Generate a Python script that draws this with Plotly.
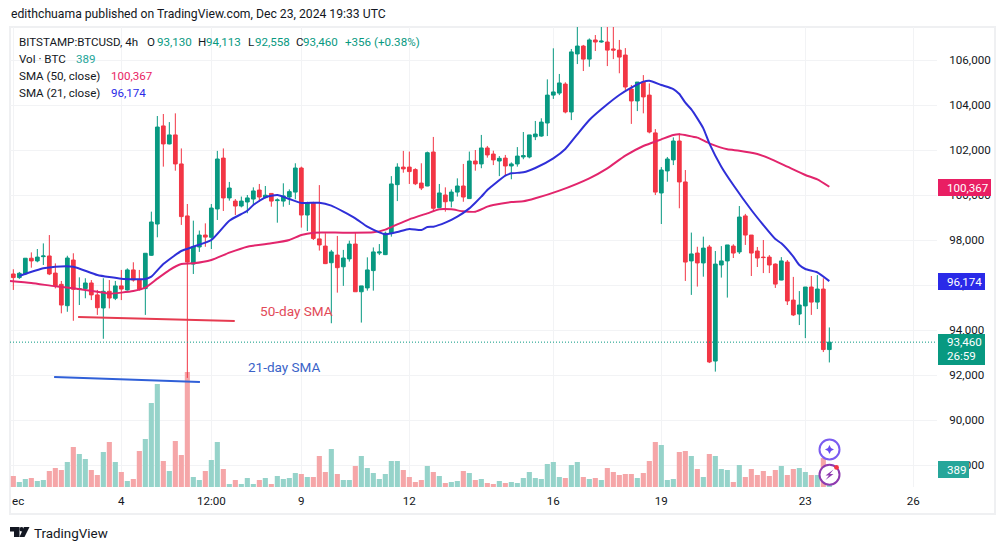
import plotly.graph_objects as go

# 4h candles, one value per bar
opens = [96490,96330,96490,97190,97070,97260,97290,96530,96030,95080,
 97110,95810,95840,96090,95560,94980,95720,95410,95960,95780,
 96670,96220,95840,97320,98710,103070,102270,102670,101380,99070,
 96930,97690,98220,98120,99380,101640,99870,99730,99510,99690,
 99820,100220,99880,100070,99750,99730,99910,100130,101200,99110,
 99640,98050,97730,96990,97330,96810,97160,97820,95700,95870,
 96640,97420,97350,98300,100460,101240,101240,101130,100530,100400,
 101910,99440,100000,99730,100130,100400,99840,101510,101380,102090,
 101820,101510,101640,101290,101380,101690,101690,102590,102620,103200,
 104440,104530,104930,103690,106270,106620,106040,106890,106800,106800,
 106490,106440,106220,104710,104180,105020,104440,102760,100090,101070,
 101560,102400,100580,97070,97420,96980,97690,92620,96890,97070,
 97730,97470,99070,98220,97510,97240,97240,96930,96220,97020,
 95330,94710,95070,95910,95240,95820,93130]
highs = [96700,96580,97200,97450,97600,97850,98220,96960,96180,97300,
 97410,96340,96300,96220,95780,96300,96220,96180,96670,96740,
 97010,96670,97410,99260,103510,103600,103240,103630,102070,99600,
 98860,98420,98740,99600,101960,102070,100580,99820,99930,100000,
 100340,100490,100400,100070,99850,100520,100250,101410,101260,99700,
 99700,100440,98300,97560,98180,97560,97970,98330,95960,97230,
 97670,97820,98370,100840,101410,101960,101930,101190,101410,101930,
 102580,100490,100340,100250,100740,101380,101930,102000,102670,102180,
 101970,101730,101780,101450,102130,102800,102670,103290,103410,105140,
 106520,105380,105010,106490,107600,106670,106960,107110,107600,107600,
 107600,106890,106530,104890,105020,105330,104960,102930,101240,101690,
 102560,102740,101110,98330,97700,98150,97780,97510,97730,97780,
 97810,99510,99160,98220,97690,98000,97330,96960,97240,97110,
 96360,95730,95910,96400,96440,96300,94113]
lows = [95780,96270,96440,96770,97010,96890,96440,95850,94740,94810,
 94410,95110,95410,95330,94670,93610,94960,95330,95330,95750,
 96150,95750,94670,97290,98120,101260,102250,101080,98670,91870,
 96490,97470,97700,97600,98890,99290,99750,99110,99450,99190,
 99560,99700,99850,99480,98770,99480,99560,99810,98550,98400,
 98000,97530,96930,94300,95660,95960,97040,95700,94330,95750,
 95750,97330,97330,98150,99730,100990,100490,100440,100220,100390,
 99330,99430,99260,99450,99930,99700,99830,101080,101190,101660,
 101330,100840,100840,100700,101260,101590,101630,102440,102590,102620,
 104270,104440,103630,103330,105820,105510,105700,106400,106770,105730,
 106040,105410,104670,103160,103730,103630,102740,100000,98710,100590,
 101330,99410,96180,95560,95930,96370,92530,92150,96330,95440,
 97200,97380,97780,96400,96800,96530,96530,95870,96210,95110,
 94620,94220,93640,94670,94930,93020,92558]
closes = [96330,96520,97190,97070,97240,97290,96490,95970,95110,97200,
 95810,95840,96090,95560,94990,95720,95420,95960,95820,96670,
 96220,95810,97410,98800,103020,102270,102670,101380,99040,97020,
 97690,98220,98130,99420,101600,99870,100310,99510,99730,99870,
 100180,99910,99990,99730,99780,99960,100150,101200,99110,99640,
 98070,97780,96950,97470,96770,97200,97820,95700,95960,96670,
 97470,97470,98300,100490,101240,101160,101040,100500,100310,101880,
 99410,100090,99700,100130,100400,99910,101510,101380,102090,101780,
 101560,101630,101290,101380,101730,101750,102670,102710,103240,104440,
 104580,104980,103690,106360,106620,106040,106890,106800,106840,106440,
 106440,106130,104800,104180,105020,104360,102800,100130,101110,101600,
 102400,100580,97020,97380,96980,97640,92580,96930,97070,97780,
 97420,99020,98220,97420,97200,97220,96890,96040,97070,95290,
 94670,95110,95910,95240,95820,93130,93460]
volumes = [238,108,173,194,130,151,346,410,367,540,864,713,605,367,259,756,972,540,324,130,
 173,778,1037,1814,2225,562,346,994,691,2484,216,151,346,583,972,389,65,151,65,194,
 65,151,194,65,238,173,194,302,281,216,216,670,324,821,281,
 151,151,454,670,410,302,173,281,562,562,367,216,108,151,454,324,238,86,108,130,346,
 302,151,173,86,65,130,86,108,86,194,324,194,173,497,540,216,194,475,540,216,173,194,
 151,410,324,259,281,281,194,302,562,972,907,
 151,173,756,778,670,389,216,713,670,389,367,108,475,216,389,259,346,238,367,454,259,
 389,410,324,259,259,626,389]

sma21_x = [1,5,7,10,14,18,22,23,25,28,30,33,36,39,40,42,44,46,48,51,53,55,57,59,61,62,64,66,68,69,70,72,74,76,77,78,79,
 80,82,83,85,87,90,92,94,96,99,101,103,105,106,108,110,111,112,113,114,115,116,118,120,123,125,127,128,130,131,132,134,136]
sma21 = [96400,96740,96815,96815,96444,96281,96266,96370,96933,97511,97703,98000,98859,99300,99555,99896,100000,99822,99644,99659,99526,99259,98963,98592,98340,98252,98355,98489,98444,98578,98592,98770,99037,99407,99659,99926,100222,
 100444,100859,100963,101007,101200,101629,102044,102696,103333,104030,104444,104770,105037,105081,104889,104711,104489,104103,103807,103407,102963,102296,101259,100444,99333,98666,98044,97852,97259,96889,96711,96563,96174]
sma50_x = [-1,3,7,10,14,16,20,22,24,26,28,30,33,36,39,40,43,46,48,50,55,60,62,64,66,69,71,73,75,77,79,
 80,83,85,87,91,96,99,102,105,108,110,111,114,116,119,121,124,126,129,132,134,136]
sma50 = [96190,96089,95941,95852,95703,95614,95733,95881,96281,96666,96933,96963,97111,97437,97703,97748,97852,98000,98222,98326,98326,98340,98459,98696,98919,99185,99363,99363,99274,99259,99481,
 99555,99689,99718,99852,100193,100741,101185,101748,102178,102474,102666,102696,102548,102296,102030,101970,101822,101629,101259,100889,100696,100367]

# hand-drawn marks and their captions
drawn_50_x, drawn_50_y = [10.8, 36.9], [94578, 94400]
drawn_21_x, drawn_21_y = [6.8, 31.1], [91911, 91689]
price_ticks = [88000,90000,92000,94000,96000,98000,100000,102000,104000,106000]
time_tickvals = [0,18,33,48,66,90,108,132,150]
time_ticktext = ["","4","12:00","9","12","16","19","23","26"]

GREEN, RED = "#089981", "#f23645"
VOL_G, VOL_R = "#96d3ca", "#f5a6a8"
BLUE, PINK = "#2f2fd8", "#e2256c"
GRID = "#f2f3f5"
FONT = "Roboto"
BASE = 11.6
idx = list(range(len(closes)))

L, R, T, B = 10, 937, 27, 487
def px(x): return (x - L) / (R - L)
def py(y): return (B - y) / (B - T)

fig = go.Figure()
fig.add_bar(x=idx, y=volumes, width=0.85, yaxis="y",
            marker=dict(color=[VOL_G if c >= o else VOL_R for o, c in zip(opens, closes)], line_width=0))
fig.add_candlestick(x=idx, open=opens, high=highs, low=lows, close=closes, yaxis="y2", whiskerwidth=0,
                    increasing=dict(line=dict(color=GREEN, width=1), fillcolor=GREEN),
                    decreasing=dict(line=dict(color=RED, width=1), fillcolor=RED))
fig.add_scatter(x=sma50_x, y=sma50, yaxis="y2", mode="lines", line=dict(color=PINK, width=2, shape="spline", smoothing=0.5))
fig.add_scatter(x=sma21_x, y=sma21, yaxis="y2", mode="lines", line=dict(color=BLUE, width=2, shape="spline", smoothing=0.5))
fig.add_scatter(x=drawn_50_x, y=drawn_50_y, yaxis="y2", mode="lines", line=dict(color="#e63b50", width=2))
fig.add_scatter(x=drawn_21_x, y=drawn_21_y, yaxis="y2", mode="lines", line=dict(color="#3060d8", width=2))

shapes = []
def rect(x0, y0, x1, y1, fill=None, line=None, width=0):
    shapes.append(dict(type="rect", xref="paper", yref="paper", x0=px(x0), y0=py(y0), x1=px(x1), y1=py(y1),
                       fillcolor=fill, line=dict(color=line, width=width), layer="above"))
def circle(cx, cy, r, fill="#ffffff", line=None, width=0):
    shapes.append(dict(type="circle", xref="paper", yref="paper", x0=px(cx-r), y0=py(cy-r), x1=px(cx+r), y1=py(cy+r),
                       fillcolor=fill, line=dict(color=line, width=width), layer="above"))
def poly(points, fill):
    d = "M" + " L".join(f"{px(x):.5f},{py(y):.5f}" for x, y in points) + " Z"
    shapes.append(dict(type="path", xref="paper", yref="paper", path=d, fillcolor=fill, line_width=0, layer="above"))

# frame
shapes.append(dict(type="rect", xref="paper", yref="paper", x0=px(10), y0=py(27), x1=px(995), y1=py(514),
                   line=dict(color="#eff0f2", width=2), layer="below"))
# last-price dotted line
shapes.append(dict(type="line", xref="paper", yref="y2", x0=px(10), x1=px(936), y0=closes[-1], y1=closes[-1],
                   line=dict(color=GREEN, width=1, dash="1px,2px"), layer="above"))
# price tags
rect(938, 179, 991, 196, fill="#e91e63")
rect(938, 273, 985, 290, fill="#2a2ae8")
rect(938, 334, 985, 365, fill="#089981")
rect(938, 461, 969, 478, fill="#26a69a")
# round icons on the last bar
circle(829.5, 449.5, 10, line="#7b5cf0", width=2)
poly([(829.5,445),(831,448),(834,449.5),(831,451),(829.5,454),(828,451),(825,449.5),(828,448)], "#6a4cf0")
circle(829.5, 474.7, 10, line="#8e3bb0", width=2)
poly([(833.5,469.5),(825.5,475.5),(829,475.5),(825.5,480),(833.5,474),(830,474)], "#8e3bb0")
circle(836.5, 467.4, 2.4, fill="#f23645")
# footer logo
poly([(10,527),(19.5,527),(19.5,537),(14,537),(14,531.5),(10,531.5)], "#131722")
poly([(24,527),(29.5,527),(24.5,537),(19.5,537)], "#131722")
circle(21.6, 529.2, 2.2, fill="#131722")

ann = []
def text(x, y, s, color="#131722", size=BASE, anchor="left"):
    ann.append(dict(x=px(x), y=py(y), xref="paper", yref="paper", text=s, showarrow=False, xanchor=anchor,
                    yanchor="middle", borderpad=0, font=dict(family=FONT, size=size, color=color)))

TEAL = "#089981"
text(10, 14, "edithchuama published on TradingView.com, Dec 23, 2024 19:33 UTC", size=12.2)
text(18, 42, "BITSTAMP:BTCUSD, 4h")
for x, s, c in [(146,"O","#131722"),(156,"93,130",TEAL),(197,"H","#131722"),(205,"94,113",TEAL),
                (247,"L","#131722"),(254,"92,558",TEAL),(295,"C","#131722"),(302,"93,460",TEAL),
                (344,"+356 (+0.38%)",TEAL)]:
    text(x, 42, s, c)
text(18, 59, "Vol · BTC"); text(75, 59, "389", "#26a69a")
text(18, 76, "SMA (50, close)"); text(110, 76, "100,367", "#e91e63")
text(18, 93, "SMA (21, close)"); text(110, 93, "96,174", "#2a2ae8")
text(259, 311, "50-day SMA", "#e24a58", 13.6)
text(247, 367, "21-day SMA", "#3a63c8", 13.5)
text(946, 187.5, "100,367", "#ffffff")
text(946, 281.5, "96,174", "#ffffff")
text(946, 342, "93,460", "#ffffff")
text(946, 356, "26:59", "#ffffff")
text(946, 469.5, "389", "#ffffff")
text(11, 501, "ec")
text(33, 533, "TradingView", "#131722", 13.4)

fig.update_layout(
    width=1005, height=550, margin=dict(l=L, r=1005-R, t=T, b=550-B, pad=0, autoexpand=False),
    paper_bgcolor="#ffffff", plot_bgcolor="#ffffff", showlegend=False, boxgap=0.38, boxgroupgap=0,
    font=dict(family=FONT, size=BASE, color="#131722"), shapes=shapes, annotations=ann,
    xaxis=dict(range=[(L-13.33)/6, (R-13.33)/6], tickmode="array", tickvals=time_tickvals, ticktext=time_ticktext,
               showgrid=True, gridcolor=GRID, gridwidth=1, zeroline=False, showline=False, ticks="outside",
               ticklen=3, tickcolor="rgba(0,0,0,0)", rangeslider=dict(visible=False), tickangle=0),
    yaxis=dict(range=[0, 9936], showgrid=False, zeroline=False, showticklabels=False, ticks="", showline=False),
    yaxis2=dict(range=[87022, 107467], overlaying="y", side="right", tickmode="array", tickvals=price_ticks,
                tickformat=",d", showgrid=True, gridcolor=GRID, gridwidth=1, zeroline=False, showline=False,
                ticks="outside", ticklen=0, ticklabelstandoff=9),
)
fig.write_html("out.html", config=dict(displayModeBar=False),
               post_script="document.body.style.margin='0';")
